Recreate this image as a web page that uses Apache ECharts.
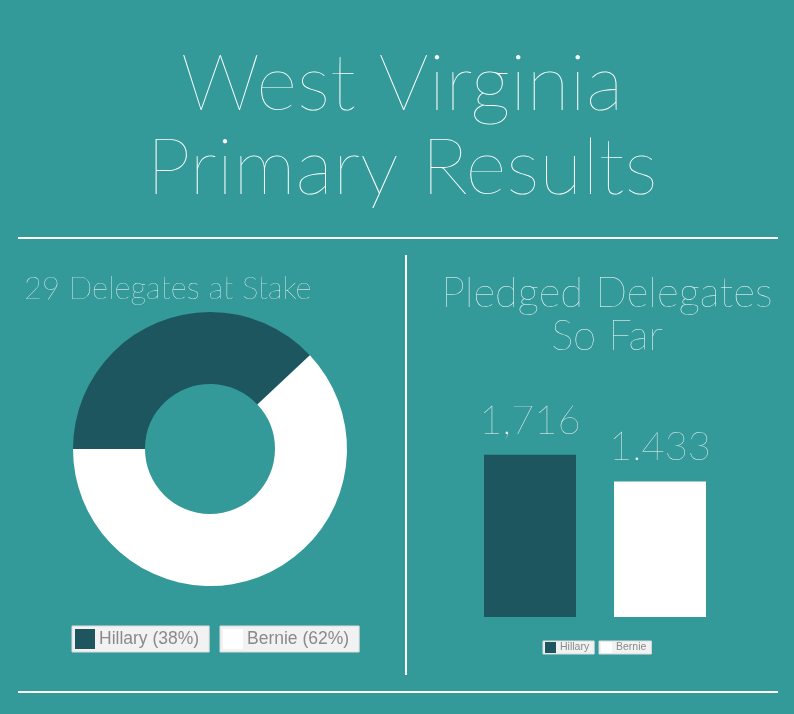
<!DOCTYPE html>
<html><head><meta charset="utf-8">
<script src="https://cdn.jsdelivr.net/npm/echarts@6/dist/echarts.min.js"></script>
<style>html,body{margin:0;padding:0;background:#339999;}#c{width:794px;height:714px;}</style>
</head><body><div id="c"></div>
<script>
var candidates = ['Hillary', 'Bernie'];
var stakePct = [38, 62];
var pledged = [1716, 1433];
var pledgedLabels = ['1,716', '1.433'];
var colors = ['#1e5660', '#ffffff'];
var BG = '#339999';
var THIN = 'Lato';

var chart = echarts.init(document.getElementById('c'), null, {renderer: 'canvas'});
function legendBox(name, left, top, big) {
  return {
    data: [name], left: left, top: top, orient: 'horizontal',
    itemWidth: big ? 20 : 11, itemHeight: big ? 20 : 11, itemGap: 0,
    backgroundColor: '#f2f2f2', borderColor: '#dcdcdc', borderWidth: 1, borderRadius: 0,
    padding: big ? [3, 10, 3, 3] : [1, 5, 1, 2],
    selectedMode: false,
    icon: 'rect',
    textStyle: {color: '#8a8a8a', fontSize: big ? 17.5 : 10.5, fontFamily: 'Liberation Sans', padding: [0,0,0,-1]},
    formatter: big ? function (n) { return n + ' (' + stakePct[candidates.indexOf(n)] + '%)'; } : '{name}'
  };
}
chart.setOption({
  backgroundColor: BG,
  animation: false,
  title: [
    {text: 'West Virginia\nPrimary Results', left: 397, top: 38, textAlign: 'center',
     textStyle: {color: '#fff', fontSize: 79, fontWeight: 100, fontFamily: THIN, lineHeight: 84, align: 'center'}},
    {text: '29 Delegates at Stake', left: 19, top: 268,
     textStyle: {color: '#fff', fontSize: 31, fontWeight: 100, fontFamily: THIN}},
    {text: 'Pledged Delegates\nSo Far', left: 602, top: 267, textAlign: 'center',
     textStyle: {color: '#fff', fontSize: 42, fontWeight: 100, fontFamily: THIN, lineHeight: 43, align: 'center'}}
  ],
  legend: [
    legendBox('Hillary', 72, 626, true),
    legendBox('Bernie', 220, 626, true),
    legendBox('Hillary', 543, 641, false),
    legendBox('Bernie', 599, 641, false)
  ],
  grid: {left: 465, width: 260, top: 428, height: 189},
  xAxis: {type: 'category', data: candidates, show: false},
  yAxis: {type: 'value', min: 0, max: 2000, show: false},
  series: [
    {
      type: 'pie', center: [210, 449], radius: [65, 137], startAngle: 180, clockwise: true,
      label: {show: false}, labelLine: {show: false}, silent: true,
      data: candidates.map(function (c, i) { return {name: c, value: stakePct[i], itemStyle: {color: colors[i]}}; })
    },
    {
      type: 'bar', barWidth: 92, silent: true,
      data: pledged.map(function (v, i) { return {value: v, itemStyle: {color: colors[i]}}; }),
      label: {show: true, position: 'top', distance: 14, color: '#f4f4f4', fontSize: 40, fontWeight: 100, fontFamily: THIN,
        formatter: function (p) { return pledgedLabels[p.dataIndex]; }}
    }
  ],
  graphic: [
    {type: 'line', shape: {x1: 18, y1: 238, x2: 778, y2: 238}, style: {stroke: '#fff', lineWidth: 2}},
    {type: 'line', shape: {x1: 18, y1: 692, x2: 778, y2: 692}, style: {stroke: '#fff', lineWidth: 2}},
    {type: 'line', shape: {x1: 406, y1: 255, x2: 406, y2: 675}, style: {stroke: '#fff', lineWidth: 2}}
  ]
});
</script></body></html>
